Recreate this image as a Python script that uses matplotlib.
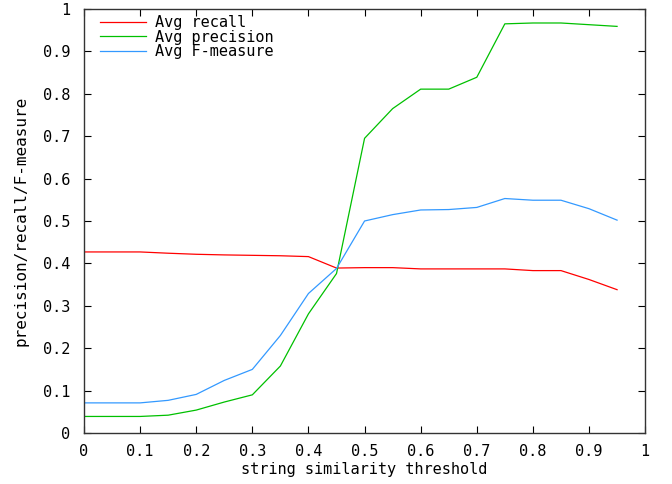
import matplotlib
matplotlib.use("Agg")
import matplotlib.pyplot as plt

thresholds = [0.0, 0.05, 0.1, 0.15, 0.2, 0.25, 0.3, 0.35, 0.4, 0.45,
              0.5, 0.55, 0.6, 0.65, 0.7, 0.75, 0.8, 0.85, 0.9, 0.95]
avg_recall = [0.427, 0.427, 0.427, 0.424, 0.4215, 0.420, 0.419, 0.418, 0.416, 0.389,
              0.390, 0.390, 0.387, 0.387, 0.387, 0.387, 0.383, 0.383, 0.362, 0.338]
avg_precision = [0.039, 0.039, 0.039, 0.042, 0.054, 0.073, 0.090, 0.158, 0.281, 0.376,
                 0.695, 0.765, 0.811, 0.811, 0.839, 0.965, 0.967, 0.967, 0.963, 0.959]
avg_fmeasure = [0.071, 0.071, 0.071, 0.077, 0.091, 0.124, 0.150, 0.230, 0.329, 0.388,
                0.500, 0.515, 0.526, 0.527, 0.532, 0.553, 0.549, 0.549, 0.529, 0.502]

series_labels = ["Avg recall", "Avg precision", "Avg F-measure"]
tick_vals = [0, 0.1, 0.2, 0.3, 0.4, 0.5, 0.6, 0.7, 0.8, 0.9, 1]
tick_labels = ["0", "0.1", "0.2", "0.3", "0.4", "0.5", "0.6", "0.7", "0.8", "0.9", "1"]

plt.rcParams['font.family'] = ['DejaVu Sans Mono']

fig = plt.figure(figsize=(6.72, 4.84), dpi=100)
ax = fig.add_axes([0.125, 0.1054, 0.835, 0.876])

ax.plot(thresholds, avg_recall, color="#ff0000", lw=0.9, label=series_labels[0])
ax.plot(thresholds, avg_precision, color="#00c000", lw=0.9, label=series_labels[1])
ax.plot(thresholds, avg_fmeasure, color="#3399ff", lw=0.9, label=series_labels[2])

ax.set_xlim(0, 1)
ax.set_ylim(0, 1)
ax.set_xticks(tick_vals)
ax.set_xticklabels(tick_labels)
ax.set_yticks(tick_vals)
ax.set_yticklabels(tick_labels)
ax.tick_params(axis="both", direction="in", length=5, width=0.8, top=True, right=True,
               labelsize=11, colors="black")
ax.tick_params(axis="y", pad=10)
ax.tick_params(axis="x", pad=8)
for s in ax.spines.values():
    s.set_linewidth(1.0)
    s.set_color("#333333")

ax.set_xlabel("string similarity threshold", fontsize=11, labelpad=2)
ax.set_ylabel("precision/recall/F-measure", fontsize=11.5, labelpad=10)

leg = ax.legend(loc="upper left", frameon=False, fontsize=11, handlelength=3.0,
                handletextpad=0.6, labelspacing=-0.04, borderaxespad=0.3,
                bbox_to_anchor=(0.01, 1.01))

fig.savefig("out.png", dpi=100)
